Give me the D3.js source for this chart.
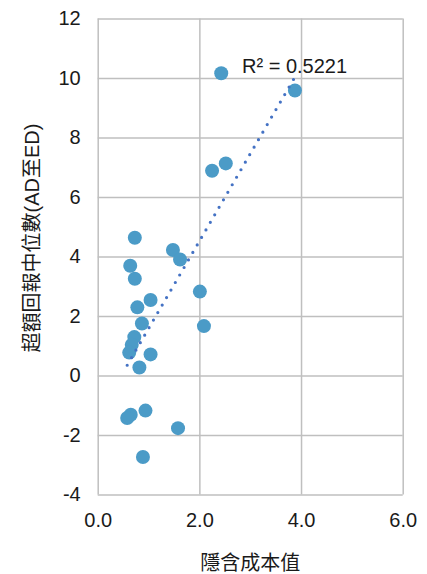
<!DOCTYPE html>
<html>
<head>
<meta charset="utf-8">
<script src="https://cdn.jsdelivr.net/npm/d3@7"></script>
<style>
  html, body { margin: 0; padding: 0; background: #fff; }
  svg { display: block; }
  text { font-family: "Liberation Sans", Arial, "Noto Sans CJK TC", sans-serif; fill: #1a1a1a; }
</style>
</head>
<body>
<svg id="chart" width="427" height="574"></svg>
<script>
// Implied cost value (x) vs. median excess return AD–ED (y)
const impliedCost = [2.43, 3.88, 2.52, 2.25, 0.73, 1.48, 1.62, 0.64, 0.73, 2.01, 1.04, 0.78,
                     0.87, 2.09, 0.72, 0.67, 0.62, 1.04, 0.82, 0.65, 0.58, 0.94, 1.58, 0.89];
const medianExcess = [10.16, 9.58, 7.13, 6.88, 4.63, 4.22, 3.90, 3.69, 3.25, 2.82, 2.54, 2.29,
                      1.75, 1.66, 1.29, 1.03, 0.77, 0.71, 0.27, -1.32, -1.43, -1.18, -1.77, -2.74];
const xTicks = [0, 2, 4, 6];
const yTicks = [-4, -2, 0, 2, 4, 6, 8, 10, 12];
const rSquaredLabel = "R² = 0.5221";
const xTitle = "隱含成本值";
const yTitle = "超額回報中位數(AD至ED)";

const svg = d3.select("#chart");
const plot = { left: 97.7, right: 402.7, top: 18.5, bottom: 494.5 };

const x = d3.scaleLinear().domain([0, 6]).range([plot.left, plot.right]);
const y = d3.scaleLinear().domain([-4, 12]).range([plot.bottom, plot.top]);

const gridColor = "#bfbfbf";
// plain hyphen-minus for negative tick labels
const intFmt = d => String(d);

// Gridlines (outer ones form the plot frame)
svg.append("g")
  .attr("transform", `translate(0,${plot.bottom})`)
  .call(d3.axisBottom(x).tickValues(xTicks).tickSize(-(plot.bottom - plot.top)).tickFormat(""))
  .call(g => g.select(".domain").remove())
  .call(g => g.selectAll("line").attr("stroke", gridColor).attr("stroke-width", 1.5));

svg.append("g")
  .attr("transform", `translate(${plot.left},0)`)
  .call(d3.axisLeft(y).tickValues(yTicks).tickSize(-(plot.right - plot.left)).tickFormat(""))
  .call(g => g.select(".domain").remove())
  .call(g => g.selectAll("line").attr("stroke", gridColor).attr("stroke-width", 1.5));

// Tick labels
svg.append("g")
  .attr("transform", `translate(0,${plot.bottom})`)
  .call(d3.axisBottom(x).tickValues(xTicks).tickSize(0).tickPadding(18).tickFormat(d => d.toFixed(1)))
  .call(g => g.select(".domain").remove())
  .call(g => g.selectAll("text").attr("font-size", 20).attr("fill", "#1a1a1a"));

svg.append("g")
  .attr("transform", `translate(${plot.left},0)`)
  .call(d3.axisLeft(y).tickValues(yTicks).tickSize(0).tickPadding(17).tickFormat(intFmt))
  .call(g => g.select(".domain").remove())
  .call(g => g.selectAll("text").attr("font-size", 20).attr("fill", "#1a1a1a"));

// Points
const pts = impliedCost.map((v, i) => ({ x: v, y: medianExcess[i] }));
svg.append("g")
  .selectAll("circle")
  .data(pts)
  .join("circle")
  .attr("cx", d => x(d.x))
  .attr("cy", d => y(d.y))
  .attr("r", 7)
  .attr("fill", "#4b9bc7");

// Linear least-squares trendline across the data's x range
const mx = d3.mean(impliedCost), my = d3.mean(medianExcess);
const sxy = d3.sum(pts, d => (d.x - mx) * (d.y - my));
const sxx = d3.sum(pts, d => (d.x - mx) ** 2);
const slope = sxy / sxx, intercept = my - slope * mx;
const [x0, x1] = d3.extent(impliedCost);
svg.append("line")
  .attr("x1", x(x0)).attr("y1", y(intercept + slope * x0))
  .attr("x2", x(x1)).attr("y2", y(intercept + slope * x1))
  .attr("stroke", "#4472c4")
  .attr("stroke-width", 3.2)
  .attr("stroke-linecap", "round")
  .attr("stroke-dasharray", "0 8.7");

// R² label
svg.append("text")
  .attr("x", 242)
  .attr("y", 73)
  .attr("font-size", 20)
  .text(rSquaredLabel);

// Axis titles
svg.append("text")
  .attr("x", (plot.left + plot.right) / 2)
  .attr("y", 570)
  .attr("text-anchor", "middle")
  .attr("font-size", 20)
  .text(xTitle);

svg.append("text")
  .attr("transform", "translate(39,238) rotate(-90)")
  .attr("text-anchor", "middle")
  .attr("font-size", 20)
  .text(yTitle);
</script>
</body>
</html>
